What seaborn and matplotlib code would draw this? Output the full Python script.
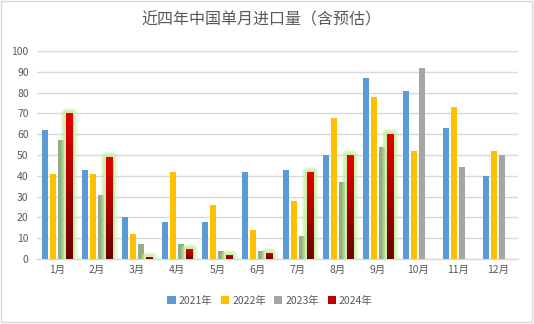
import numpy as np
import pandas as pd
import matplotlib
matplotlib.use("Agg")
import matplotlib.pyplot as plt
import seaborn as sns
from matplotlib import patheffects as pe
from matplotlib.patches import Rectangle, Patch
from matplotlib.colors import LinearSegmentedColormap

months = [f"{i}月" for i in range(1, 13)]
years = ["2021年", "2022年", "2023年", "2024年"]
v2021 = [62, 43, 20, 18, 18, 42, 43, 50, 87, 81, 63, 40]
v2022 = [41, 41, 12, 42, 26, 14, 28, 68, 78, 52, 73, 52]
v2023 = [57, 31, 7, 7, 4, 4, 11, 37, 54, 92, 44, 50]
v2024 = [70, 49, 1, 5, 2, 3, 42, 50, 60, np.nan, np.nan, np.nan]
yticks = list(range(0, 101, 10))
title = "近四年中国单月进口量（含预估）"

colors = {"2021年": "#5B9BD5", "2022年": "#FFC000", "2023年": "#A5A5A5", "2024年": "#C00000"}
green_gray = "#93AE7F"
glow = "#C4EE9E"

df = pd.DataFrame({
    "月": months * 4,
    "年": sum([[y] * 12 for y in years], []),
    "值": v2021 + v2022 + v2023 + v2024,
})

sns.set_theme(style="white")
plt.rcParams["font.family"] = ["Noto Sans CJK SC", "DejaVu Sans"]

fig = plt.figure(figsize=(5.34, 3.24), dpi=100)
ax = fig.add_axes([37 / 534, 1 - 259 / 324, (518 - 37) / 534, (259 - 51) / 324])

sns.barplot(data=df, x="月", y="值", hue="年", order=months, hue_order=years,
            palette=colors, width=0.8, gap=0.25, ax=ax, legend=False,
            errorbar=None, saturation=1, zorder=3, linewidth=0)

ax.set_ylim(0, 100)
ax.set_xlim(-0.5, 11.5)
ax.set_yticks(yticks)
ax.yaxis.grid(True, color="#D9D9D9", linewidth=1, zorder=0)
ax.set_axisbelow(True)
for s in ["top", "right", "left"]:
    ax.spines[s].set_visible(False)
ax.spines["bottom"].set_color("#D9D9D9")
ax.spines["bottom"].set_linewidth(1)
ax.tick_params(axis="both", length=0, labelsize=7.5, labelcolor="#595959")
ax.tick_params(axis="x", pad=4)
ax.tick_params(axis="y", pad=6)
ax.set_xlabel("")
ax.set_ylabel("")

# 2023 bars tinted (months 1-9)
c2023 = ax.containers[2]
for i, p in enumerate(c2023.patches):
    if i < 9:
        p.set_facecolor(green_gray)

# 2024 bars: glow + vertical gradient
cmap = LinearSegmentedColormap.from_list("redgrad", ["#E80000", "#6A0000"])
c2024 = ax.containers[3]
for p in c2024.patches:
    h = p.get_height()
    if not np.isfinite(h) or h == 0:
        continue
    p.set_linewidth(0)
    p.set_edgecolor(glow)
    p.set_path_effects([
        pe.Stroke(linewidth=8, foreground=glow, alpha=0.25, joinstyle="round"),
        pe.Stroke(linewidth=6, foreground=glow, alpha=0.35, joinstyle="round"),
        pe.Stroke(linewidth=4, foreground=glow, alpha=0.5, joinstyle="round"),
        pe.Stroke(linewidth=2, foreground=glow, alpha=0.6, joinstyle="round"),
        pe.Normal(),
    ])
    x0 = p.get_x()
    w = p.get_width()
    im = ax.imshow(np.linspace(0, 1, 256).reshape(-1, 1), cmap=cmap,
                   extent=[x0, x0 + w, 0, h], origin="upper", aspect="auto",
                   zorder=4)
    im.set_clip_path(p)
ax.set_xlim(-0.5, 11.5)
ax.set_ylim(0, 100)

fig.text(0.49, 1 - 20 / 324, title, ha="center", va="center",
         fontsize=11.5, color="#595959")

handles = [Patch(facecolor=colors[y], edgecolor="none") for y in years]
fig.legend(handles, years, loc="center", bbox_to_anchor=(270 / 534, 1 - 301 / 324),
           ncol=4, frameon=False, fontsize=7.5, labelcolor="#595959",
           handlelength=0.8, handleheight=0.8, handletextpad=0.3,
           columnspacing=0.8, borderaxespad=0)

fig.patches.append(Rectangle((1 / 534, 2 / 324), 531 / 534, 321 / 324,
                             transform=fig.transFigure, fill=False,
                             edgecolor="#D9D9D9", linewidth=1))

fig.savefig("out.png", dpi=100)
